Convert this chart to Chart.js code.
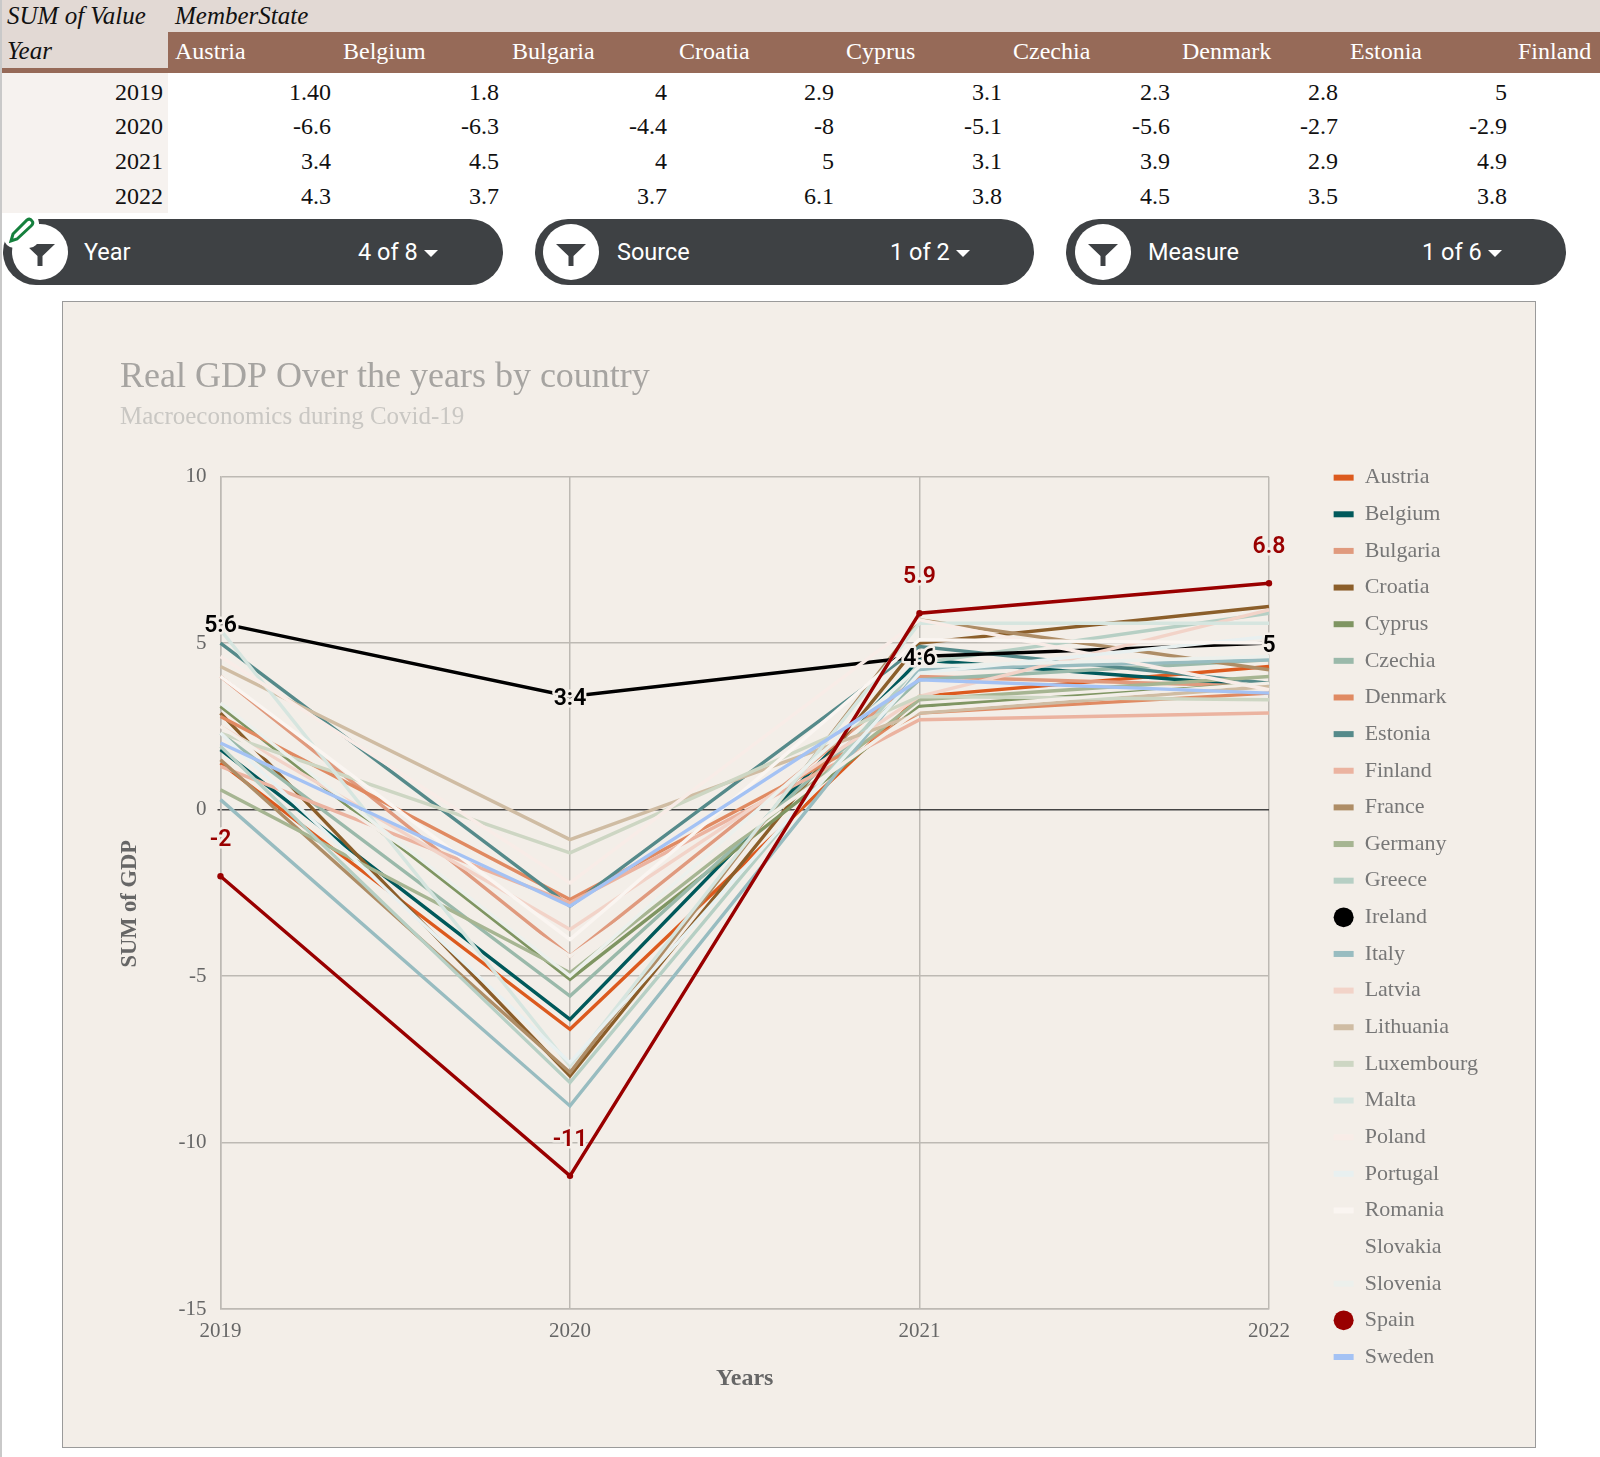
<!DOCTYPE html>
<html>
<head>
<meta charset="utf-8">
<style>
html, body { margin: 0; padding: 0; background: #fff; width: 1600px; height: 1457px; overflow: hidden; }
body { position: relative; font-family: "Liberation Serif", serif; }
.abs { position: absolute; }
.edge { left: 0; top: 0; width: 2px; height: 1457px; background: #c9c9c9; }
.cell { position: absolute; font-size: 24px; line-height: 30px; white-space: nowrap; color: #111; }
.pill { position: absolute; top: 219px; height: 66px; border-radius: 33px; background: #3e4144; }
.disc { position: absolute; top: 5px; width: 56px; height: 56px; border-radius: 50%; background: #fff; }
.disc svg { position: absolute; left: 13px; top: 20px; }
.pilltext { position: absolute; top: 0; color: #fff; font: 23.5px/66px Roboto, sans-serif; white-space: nowrap; }
.caret { position: absolute; top: 31px; width: 0; height: 0; border-left: 7px solid transparent; border-right: 7px solid transparent; border-top: 7px solid #fff; }
#panel { position: absolute; left: 62px; top: 301px; width: 1474px; height: 1147px; background: #f3eee8; box-shadow: inset 0 0 0 1px #9a9a9a; }
#badge { position: absolute; left: 4px; top: 213px; width: 35px; height: 35px; border-radius: 10px; background: #fff; }
</style>
</head>
<body>
<div class="abs edge"></div>
<div class="abs" style="left:2px;top:0;width:1598px;height:32px;background:#e2d9d4"></div>
<div class="abs" style="left:2px;top:32px;width:166px;height:36px;background:#e2d9d4"></div>
<div class="abs" style="left:2px;top:68px;width:166px;height:5px;background:#966a58"></div>
<div class="abs" style="left:168px;top:32px;width:1432px;height:41px;background:#966a58"></div>
<div class="abs" style="left:2px;top:73px;width:166px;height:140px;background:#f6f2ef"></div>
<div id="table"></div>
<div id="filters"></div>
<div id="badge">
  <svg width="35" height="35" viewBox="0 0 35 35"><path d="M7 28 L9 21 L23 7 Q26 5 28 8 Q30 10 27 13 L13 26 Z" fill="none" stroke="#15803d" stroke-width="3"/></svg>
</div>
<div id="panel"><canvas id="gdpChart" width="1474" height="1147"></canvas></div>

<script src="https://cdn.jsdelivr.net/npm/chart.js@4/dist/chart.umd.min.js"></script>
<script>
const years = ['2019', '2020', '2021', '2022'];

const austria = [1.4, -6.6, 3.4, 4.3];
const belgium = [1.8, -6.3, 4.5, 3.7];
const bulgaria = [4, -4.4, 4, 3.7];
const croatia = [2.9, -8, 5, 6.1];
const cyprus = [3.1, -5.1, 3.1, 3.8];
const czechia = [2.3, -5.6, 3.9, 4.5];
const denmark = [2.8, -2.7, 2.9, 3.5];
const estonia = [5, -2.9, 4.9, 3.8];
const finland = [1.3, -2.8, 2.7, 2.9];
const france = [1.5, -7.9, 5.7, 4.2];
const germany = [0.6, -4.9, 3.3, 4];
const greece = [1.9, -8.2, 4.4, 5.9];
const ireland = [5.6, 3.4, 4.6, 5];
const italy = [0.3, -8.9, 4.2, 4.5];
const latvia = [2.5, -3.6, 3.4, 6];
const lithuania = [4.3, -0.9, 2.9, 3.7];
const luxembourg = [2.3, -1.3, 3.4, 3.3];
const malta = [5.4, -7.7, 5.6, 5.6];
const poland = [4.6, -2.2, 5.7, 3.6];
const portugal = [2.3, -7.6, 4.1, 5.2];
const romania = [4, -3.9, 5.1, 5];
const slovakia = [2.5, -4.4, 3, 3.8];
const slovenia = [3.2, -5, 4.3, 4.6];
const spain = [-2, -11, 5.9, 6.8];
const sweden = [2, -2.9, 3.9, 3.5];

const countryNames = ['Austria', 'Belgium', 'Bulgaria', 'Croatia', 'Cyprus', 'Czechia', 'Denmark', 'Estonia', 'Finland', 'France', 'Germany', 'Greece', 'Ireland', 'Italy', 'Latvia', 'Lithuania', 'Luxembourg', 'Malta', 'Poland', 'Portugal', 'Romania', 'Slovakia', 'Slovenia', 'Spain', 'Sweden'];
const countryValues = [austria, belgium, bulgaria, croatia, cyprus, czechia, denmark, estonia, finland, france, germany, greece, ireland, italy, latvia, lithuania, luxembourg, malta, poland, portugal, romania, slovakia, slovenia, spain, sweden];
const countryColors = ['#dc5a1e', '#00595b', '#e09a7e', '#8b5e2a', '#7f9562', '#9ab9aa', '#e08a62', '#558a8a', '#ebb3a0', '#ae8d66', '#a6b592', '#b6cfc4', '#000000', '#98bcc0', '#f2d3c8', '#cfbca3', '#cdd6c3', '#d6e5df', '#f8ece7', '#e8f0f0', '#faf5f1', '#f3eee8', '#ecf0ec', '#990000', '#a4c2f4'];

const irelandLabels = ['5:6', '3:4', '4:6', '5'];
const spainLabels = ['-2', '-11', '5.9', '6.8'];

const tableHeaders = ['Austria', 'Belgium', 'Bulgaria', 'Croatia', 'Cyprus', 'Czechia', 'Denmark', 'Estonia', 'Finland'];
const tableRow2019 = ['1.40', '1.8', '4', '2.9', '3.1', '2.3', '2.8', '5'];
const tableRow2020 = ['-6.6', '-6.3', '-4.4', '-8', '-5.1', '-5.6', '-2.7', '-2.9'];
const tableRow2021 = ['3.4', '4.5', '4', '5', '3.1', '3.9', '2.9', '4.9'];
const tableRow2022 = ['4.3', '3.7', '3.7', '6.1', '3.8', '4.5', '3.5', '3.8'];

const filterNames = ['Year', 'Source', 'Measure'];
const filterCounts = ['4 of 8', '1 of 2', '1 of 6'];

// table above the chart
function addCell(text, css) {
    let el = document.createElement('div');
    el.className = 'cell';
    el.textContent = text;
    el.style.cssText = css;
    document.getElementById('table').appendChild(el);
}

addCell('SUM of Value', 'left:7px;top:1px;font-style:italic;font-size:25px');
addCell('MemberState', 'left:175px;top:1px;font-style:italic;font-size:25px');
addCell('Year', 'left:7px;top:36px;font-style:italic;font-size:25px');

const headerLefts = [175, 343, 512, 679, 846, 1013, 1182, 1350, 1518];
tableHeaders.forEach(function (name, i) {
    addCell(name, 'left:' + headerLefts[i] + 'px;top:36px;color:#fff');
});

const rowTops = [77, 111, 146, 181];
const valueRights = [331, 499, 667, 834, 1002, 1170, 1338, 1507];
[tableRow2019, tableRow2020, tableRow2021, tableRow2022].forEach(function (row, r) {
    addCell(years[r], 'right:' + (1600 - 163) + 'px;top:' + rowTops[r] + 'px');
    row.forEach(function (v, i) {
        addCell(v, 'right:' + (1600 - valueRights[i]) + 'px;top:' + rowTops[r] + 'px');
    });
});

// the three filter pills
const pillLefts = [3, 535, 1066];
const pillWidths = [500, 499, 500];
const discLefts = [9, 8, 9];
const nameLefts = [81, 82, 82];
const countLefts = [355, 355, 356];
const caretLefts = [421, 421, 422];
filterNames.forEach(function (name, i) {
    let pill = document.createElement('div');
    pill.className = 'pill';
    pill.style.left = pillLefts[i] + 'px';
    pill.style.width = pillWidths[i] + 'px';
    pill.innerHTML =
        '<div class="disc" style="left:' + discLefts[i] + 'px"><svg width="30" height="22" viewBox="0 0 30 22"><path d="M0 0 H30 L17.5 12 V22 H12.5 V12 Z" fill="#3e4144"/></svg></div>' +
        '<div class="pilltext" style="left:' + nameLefts[i] + 'px">' + name + '</div>' +
        '<div class="pilltext" style="left:' + countLefts[i] + 'px">' + filterCounts[i] + '</div>' +
        '<div class="caret" style="left:' + caretLefts[i] + 'px"></div>';
    document.getElementById('filters').appendChild(pill);
});

const panelColor = '#f3eee8';
const serif = '"Liberation Serif", serif';

// legend box is moved to its reference position once the layout is done
const placeLegend = {
    id: 'placeLegend',
    afterLayout: function (chart) {
        let legend = chart.legend;
        legend.left = 1257;
        legend.top = 151;
        legend.right = 1474;
        legend.bottom = 1147;
    }
};

// no datalabels plugin here, labels for Ireland and Spain are drawn by hand
const pointLabels = {
    id: 'pointLabels',
    afterDatasetsDraw: function (chart) {
        let ctx = chart.ctx;
        ctx.save();
        ctx.font = '600 23px Roboto, sans-serif';
        ctx.textAlign = 'center';
        ctx.textBaseline = 'middle';
        ctx.lineJoin = 'round';
        ctx.lineWidth = 5;
        ctx.strokeStyle = panelColor;
        let irelandMeta = chart.getDatasetMeta(countryNames.indexOf('Ireland'));
        irelandMeta.data.forEach(function (pt, i) {
            ctx.fillStyle = '#000000';
            ctx.strokeText(irelandLabels[i], pt.x, pt.y + 3);
            ctx.fillText(irelandLabels[i], pt.x, pt.y + 3);
        });
        let spainMeta = chart.getDatasetMeta(countryNames.indexOf('Spain'));
        spainMeta.data.forEach(function (pt, i) {
            ctx.fillStyle = '#990000';
            ctx.strokeText(spainLabels[i], pt.x, pt.y - 36);
            ctx.fillText(spainLabels[i], pt.x, pt.y - 36);
        });
        ctx.restore();
    }
};

// the y title sits a bit below the middle of the plot, the scale title can't do that
const yAxisTitle = {
    id: 'yAxisTitle',
    afterDraw: function (chart) {
        let ctx = chart.ctx;
        ctx.save();
        ctx.translate(68, chart.chartArea.top + chart.chartArea.height / 2 + 11);
        ctx.rotate(-Math.PI / 2);
        ctx.font = 'bold 22.5px ' + serif;
        ctx.fillStyle = '#666666';
        ctx.textAlign = 'center';
        ctx.textBaseline = 'middle';
        ctx.fillText('SUM of GDP', 0, 0);
        ctx.restore();
    }
};

let datasets = [];
for (let i in countryNames) {
    datasets.push({
        label: countryNames[i],
        data: countryValues[i],
        borderColor: countryColors[i],
        backgroundColor: countryColors[i],
        borderWidth: 3.4,
        pointRadius: countryNames[i] == 'Spain' ? 3.2 : 0,
        pointBorderWidth: 0,
        tension: 0,
        order: countryNames.length - i
    });
}

new Chart(document.getElementById('gdpChart').getContext('2d'), {
    type: 'line',
    data: { labels: years, datasets: datasets },
    plugins: [placeLegend, pointLabels, yAxisTitle],
    options: {
        responsive: false,
        animation: false,
        layout: { padding: { left: 58, top: 55, right: 0, bottom: 55 } },
        plugins: {
            tooltip: { enabled: false },
            title: {
                display: true,
                text: 'Real GDP Over the years by country',
                align: 'start',
                color: '#a6a4a1',
                font: { family: serif, size: 36, weight: 'normal' },
                padding: { top: 0, bottom: 3.5 }
            },
            subtitle: {
                display: true,
                text: 'Macroeconomics during Covid-19',
                align: 'start',
                color: '#c9c7c3',
                font: { family: serif, size: 25, weight: 'normal' },
                padding: { top: 0, bottom: 44 }
            },
            legend: {
                position: 'right',
                align: 'start',
                labels: {
                    color: '#777777',
                    font: { family: serif, size: 22 },
                    padding: 14.64,
                    usePointStyle: true,
                    pointStyleWidth: 20,
                    boxHeight: 14,
                    generateLabels: function () {
                        return countryNames.map(function (name, i) {
                            let isDot = name == 'Ireland' || name == 'Spain';
                            return {
                                text: name,
                                fontColor: '#777777',
                                fillStyle: countryColors[i],
                                strokeStyle: countryColors[i],
                                lineWidth: isDot ? 0 : 6,
                                pointStyle: isDot ? 'circle' : 'line',
                                hidden: false,
                                datasetIndex: i
                            };
                        });
                    }
                }
            }
        },
        scales: {
            x: {
                afterFit: function (scale) {
                    scale.paddingRight = 267;
                    scale.height = 84;
                },
                grid: { color: '#bdb9b3', lineWidth: 1.5, drawTicks: false },
                border: { color: '#bdb9b3', width: 1.5 },
                ticks: { color: '#666666', padding: 10, maxRotation: 0, font: { family: serif, size: 21 } },
                title: {
                    display: true,
                    text: 'Years',
                    color: '#666666',
                    padding: { top: 0, bottom: 0 },
                    font: { family: serif, size: 24, weight: 'bold' }
                }
            },
            y: {
                min: -15,
                max: 10,
                afterFit: function (scale) {
                    scale.width = 100.5;
                },
                grid: {
                    lineWidth: 1.5,
                    tickLength: 3,
                    color: function (c) { return c.tick.value === 0 ? '#444444' : '#bdb9b3'; },
                    tickColor: function (c) { return c.tick.value === 0 ? '#444444' : 'rgba(0,0,0,0)'; }
                },
                border: { color: '#bdb9b3', width: 1.5 },
                ticks: {
                    stepSize: 5,
                    color: '#666666',
                    padding: 11,
                    font: { family: serif, size: 21 }
                }
            }
        }
    }
});
</script>
</body>
</html>
